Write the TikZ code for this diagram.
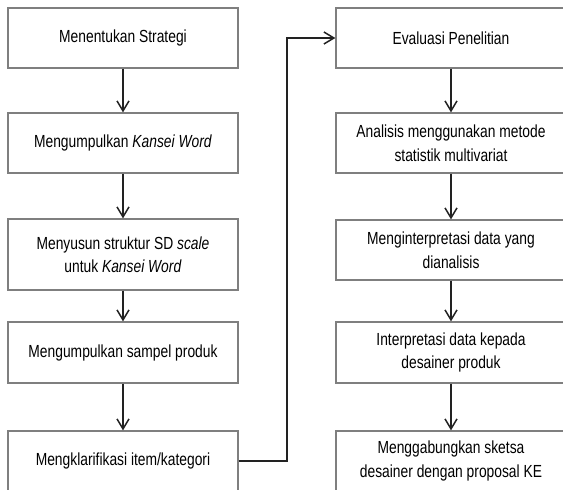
\documentclass[tikz,border=0pt]{standalone}
\usepackage{fontspec}
\setmainfont{Liberation Sans}[FakeStretch=0.79]
\usetikzlibrary{arrows.meta}
\definecolor{boxgray}{HTML}{7F7F7F}
\definecolor{lineblack}{HTML}{222222}
\begin{document}
\begin{tikzpicture}[x=1pt,y=-1pt,
  box/.style={draw=boxgray, line width=1.3pt, minimum width=230pt, inner sep=0pt,
    align=center, font=\fontsize{17.5}{23.5}\selectfont},
  conn/.style={draw=lineblack, line width=1.5pt,
    -{Straight Barb[length=10pt,width=12pt,line width=1.5pt]}}
]
\useasboundingbox (0,0) rectangle (563,490);
\clip (0,0) rectangle (563,490);
% left column
\node[box, minimum height=60pt] (L1) at (123,38) {Menentukan Strategi};
\node[box, minimum height=60pt] (L2) at (123,143) {Mengumpulkan \textit{Kansei Word}};
\node[box, minimum height=71pt] (L3) at (123,254.5) {Menyusun struktur SD \textit{scale}\\untuk \textit{Kansei Word}};
\node[box, minimum height=61pt] (L4) at (123,352.5) {Mengumpulkan sampel produk};
\node[box, minimum height=60pt] (L5) at (123,461) {Mengklarifikasi item/kategori};
% right column
\node[box, minimum height=60pt] (R1) at (451,38) {Evaluasi Penelitian};
\node[box, minimum height=60pt] (R2) at (451,143) {Analisis menggunakan metode\\statistik multivariat};
\node[box, minimum height=60pt] (R3) at (451,250) {Menginterpretasi data yang\\dianalisis};
\node[box, minimum height=61pt] (R4) at (451,352.5) {Interpretasi data kepada\\desainer produk};
\node[box, minimum height=60pt] (R5) at (451,461) {Menggabungkan sketsa\\desainer dengan proposal KE};
% connectors
\draw[conn] (L1.south) -- (L2.north);
\draw[conn] (L2.south) -- (L3.north);
\draw[conn] (L3.south) -- (L4.north);
\draw[conn] (L4.south) -- (L5.north);
\draw[conn] (R1.south) -- (R2.north);
\draw[conn] (R2.south) -- (R3.north);
\draw[conn] (R3.south) -- (R4.north);
\draw[conn] (R4.south) -- (R5.north);
\coordinate (turn) at (287,461);
\draw[conn] (L5.east) -- (turn) |- (R1.west);
\end{tikzpicture}
\end{document}
